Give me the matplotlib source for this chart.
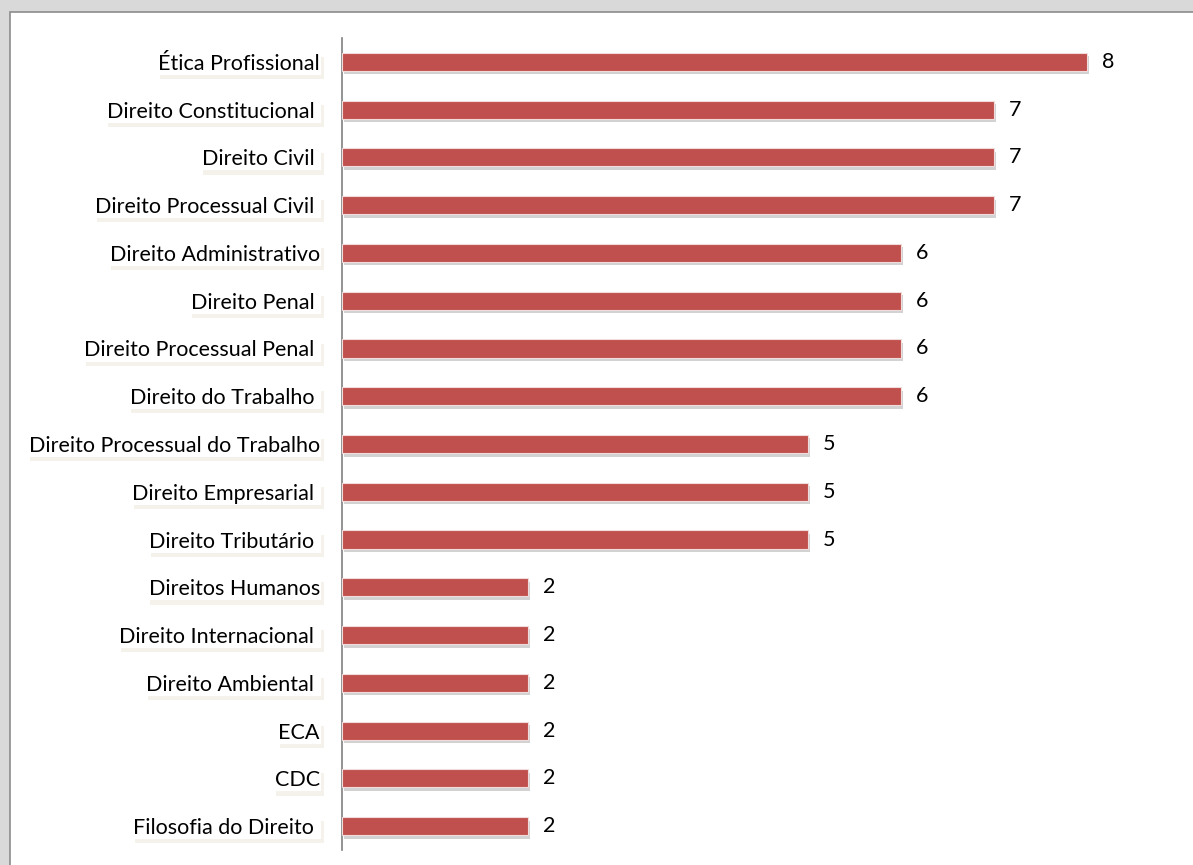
import matplotlib.pyplot as plt
from matplotlib.patches import Rectangle
import matplotlib.patheffects as pe

plt.rcParams['font.family'] = ['Lato', 'DejaVu Sans']

materias = ["Ética Profissional", "Direito Constitucional ", "Direito Civil ",
            "Direito Processual Civil ", "Direito Administrativo", "Direito Penal ",
            "Direito Processual Penal ", "Direito do Trabalho ",
            "Direito Processual do Trabalho", "Direito Empresarial ",
            "Direito Tributário ", "Direitos Humanos", "Direito Internacional ",
            "Direito Ambiental ", "ECA", "CDC", "Filosofia do Direito "]
questoes = [8, 7, 7, 7, 6, 6, 6, 6, 5, 5, 5, 2, 2, 2, 2, 2, 2]

fig = plt.figure(figsize=(11.93, 8.65), dpi=100, facecolor='#d9d9d9')
# white panel with gray border
panel = Rectangle((10 / 1193, -0.1), 1.1, (865 - 12) / 865 + 0.1,
                  transform=fig.transFigure, facecolor='white',
                  edgecolor='#8c8c8c', linewidth=1.2, zorder=-1)
fig.patches.append(panel)

ax = fig.add_axes([342 / 1193, 15 / 865, (1180 - 342) / 1193, (850 - 38) / 865])
ax.patch.set_visible(False)

ypos = list(range(len(materias)))[::-1]
bars = ax.barh(ypos, questoes, height=0.38, color='#c0504d',
               edgecolor='#f2dcdb', linewidth=0.8, zorder=3)
for b in bars:
    b.set_path_effects([pe.SimplePatchShadow(offset=(1.5, -2.5), shadow_rgbFace='#909090', alpha=0.4),
                        pe.Normal()])

for y, v in zip(ypos, questoes):
    ax.annotate(str(v), (v, y), xytext=(11, 0), textcoords='offset points',
                va='center', ha='left', fontsize=15.5, color='black')

ax.set_xlim(0, 9)
ax.set_ylim(-0.5, len(materias) - 0.5)
ax.set_xticks([])
ax.set_yticks(ypos)
ax.set_yticklabels(materias, fontsize=15.5)
ax.tick_params(axis='y', length=0, pad=16)
for lbl in ax.get_yticklabels():
    lbl.set_bbox(dict(boxstyle='square,pad=0.05', facecolor='white', edgecolor='none'))
    lbl.get_bbox_patch().set_path_effects([
        pe.SimplePatchShadow(offset=(2, -3), shadow_rgbFace='#ebe7d8', alpha=0.5),
        pe.Normal()])

for s in ['top', 'right', 'bottom']:
    ax.spines[s].set_visible(False)
ax.spines['left'].set_color('#808080')
ax.spines['left'].set_linewidth(1.2)

fig.savefig('out.png', dpi=100, facecolor=fig.get_facecolor())
